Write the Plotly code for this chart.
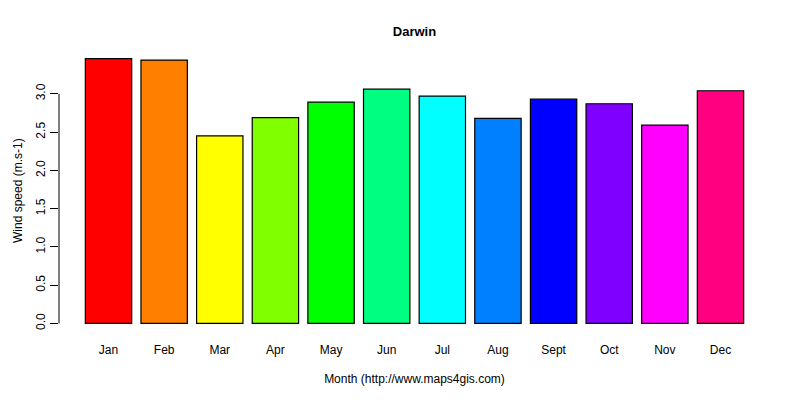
import plotly.graph_objects as go

# monthly mean wind speed, Darwin
months = ["Jan", "Feb", "Mar", "Apr", "May", "Jun", "Jul", "Aug", "Sept", "Oct", "Nov", "Dec"]
wind_speed = [3.46, 3.44, 2.45, 2.69, 2.89, 3.06, 2.97, 2.68, 2.93, 2.87, 2.59, 3.04]
bar_colors = ["#FF0000", "#FF8000", "#FFFF00", "#80FF00", "#00FF00", "#00FF80",
              "#00FFFF", "#0080FF", "#0000FF", "#8000FF", "#FF00FF", "#FF0080"]
y_ticks = [0.0, 0.5, 1.0, 1.5, 2.0, 2.5, 3.0]

font = "Liberation Sans, Arial, sans-serif"

# the page body has an 8px margin, so the figure is drawn 8px smaller
W, H = 792, 392
left, right = 51, 30
plot_w = W - left - right

fig = go.Figure(go.Bar(
    x=months, y=wind_speed,
    marker=dict(color=bar_colors, line=dict(color="black", width=1.2)),
    hoverinfo="x+y",
))

# R-style 4% padding on the y range
ymax = max(wind_speed)
pad = ymax * 0.04

fig.update_layout(
    width=W, height=H,
    margin=dict(l=left, r=right, t=40, b=66, autoexpand=False),
    paper_bgcolor="white", plot_bgcolor="white",
    bargap=1 - 1 / 1.2,
    showlegend=False,
    font=dict(family=font, size=12, color="black"),
    title=dict(text="<b>Darwin</b>", x=(left + W - right) / 2 / W, xanchor="center",
               y=1 - 23 / H, yanchor="middle", font=dict(size=13)),
)

fig.update_xaxes(
    range=[-0.89, 11.89], showline=False, showgrid=False, zeroline=False,
    ticks="", ticklabelstandoff=7, tickfont=dict(size=12), automargin=False,
    title=dict(text="Month (http://www.maps4gis.com)", font=dict(size=12), standoff=18),
)

fig.update_yaxes(
    range=[-pad, ymax + pad], showline=False, showgrid=False, zeroline=False,
    tickvals=y_ticks, ticktext=[f"{v:.1f}" for v in y_ticks],
    ticks="outside", ticklen=8, tickwidth=1, tickcolor="black",
    tickangle=-90, tickfont=dict(size=12), automargin=False,
)

# y title as an annotation so it can sit close to the page edge
fig.add_annotation(
    text="Wind speed (m.s-1)", textangle=-90, showarrow=False,
    xref="paper", yref="paper", x=(1 - left) / plot_w, y=0.5,
    xanchor="left", yanchor="middle", font=dict(size=12),
)

# y axis line only spans the tick range, like base R
fig.add_shape(type="line", xref="paper", yref="y", x0=0, x1=0,
              y0=y_ticks[0], y1=y_ticks[-1], line=dict(color="black", width=1))

fig.write_html("out.html")
